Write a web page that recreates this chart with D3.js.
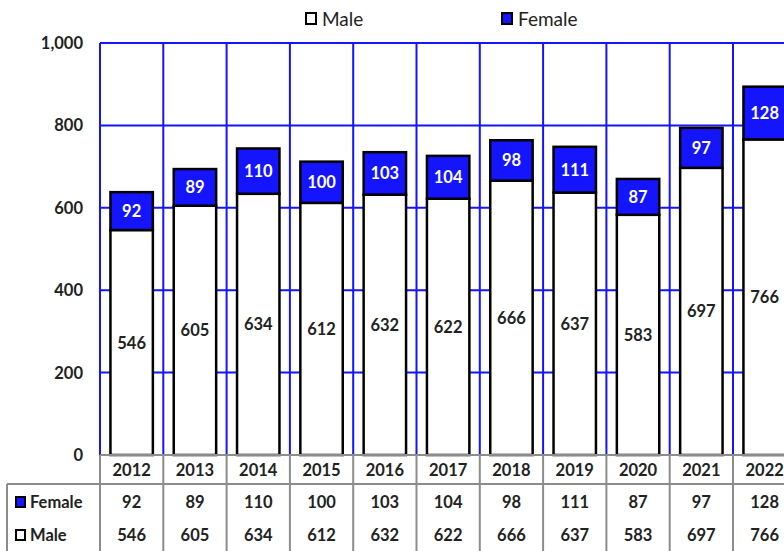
<!DOCTYPE html>
<html>
<head>
<meta charset="utf-8">
<script src="https://cdn.jsdelivr.net/npm/d3@7"></script>
<style>
  body { margin: 0; background: #fff; }
  svg { font-family: Lato, "Open Sans", sans-serif; }
</style>
</head>
<body>
<svg id="chart" width="784" height="551"></svg>
<script>
// data
const years = ["2012","2013","2014","2015","2016","2017","2018","2019","2020","2021","2022"];
const male = [546, 605, 634, 612, 632, 622, 666, 637, 583, 697, 766];
const female = [92, 89, 110, 100, 103, 104, 98, 111, 87, 97, 128];
const yTicks = [0, 200, 400, 600, 800, 1000];

const blue = "#1414ff";
const grey = "#8c8c8c";
const txt = "#222";
const fs = "16.5px";

const svg = d3.select("#chart");
const plotLeft = 100, plotTop = 43, plotBottom = 455;
const bandW = 63.3;

const x = d3.scaleBand()
  .domain(years)
  .range([plotLeft, plotLeft + bandW * years.length])
  .paddingInner(0.33)
  .paddingOuter(0.165);

const y = d3.scaleLinear().domain([0, 1000]).range([plotBottom, plotTop]);

// horizontal gridlines
svg.append("g").selectAll("line")
  .data(yTicks)
  .join("line")
    .attr("x1", plotLeft).attr("x2", 784)
    .attr("y1", d => y(d)).attr("y2", d => y(d))
    .attr("stroke", blue).attr("stroke-width", 2);

// vertical gridlines at category boundaries
const edges = years.map((d, i) => plotLeft + i * bandW).concat([plotLeft + years.length * bandW]);
svg.append("g").selectAll("line")
  .data(edges)
  .join("line")
    .attr("x1", d => d).attr("x2", d => d)
    .attr("y1", plotTop).attr("y2", plotBottom)
    .attr("stroke", blue).attr("stroke-width", 2);

// y tick labels
svg.append("g").selectAll("text")
  .data(yTicks)
  .join("text")
    .attr("x", 83)
    .attr("y", d => y(d) + 6)
    .attr("text-anchor", "end")
    .style("font-size", fs).style("font-weight", "bold")
    .attr("fill", txt)
    .text(d => d3.format(",")(d));

// stacked bars
const bars = svg.append("g");
bars.selectAll("rect.male")
  .data(years)
  .join("rect")
    .attr("class", "male")
    .attr("x", d => x(d))
    .attr("width", x.bandwidth())
    .attr("y", (d, i) => y(male[i]))
    .attr("height", (d, i) => y(0) - y(male[i]))
    .attr("fill", "#fff").attr("stroke", "#000").attr("stroke-width", 2.5);

bars.selectAll("rect.female")
  .data(years)
  .join("rect")
    .attr("class", "female")
    .attr("x", d => x(d))
    .attr("width", x.bandwidth())
    .attr("y", (d, i) => y(male[i] + female[i]))
    .attr("height", (d, i) => y(male[i]) - y(male[i] + female[i]))
    .attr("fill", blue).attr("stroke", "#000").attr("stroke-width", 2.5);

// labels inside segments
bars.selectAll("text.ml")
  .data(years)
  .join("text")
    .attr("class", "ml")
    .attr("x", d => x(d) + x.bandwidth() / 2)
    .attr("y", (d, i) => y(male[i] / 2) + 6)
    .attr("text-anchor", "middle")
    .style("font-size", fs).style("font-weight", "bold")
    .attr("fill", txt)
    .text((d, i) => male[i]);

bars.selectAll("text.fl")
  .data(years)
  .join("text")
    .attr("class", "fl")
    .attr("x", d => x(d) + x.bandwidth() / 2)
    .attr("y", (d, i) => y(male[i] + female[i] / 2) + 6)
    .attr("text-anchor", "middle")
    .style("font-size", fs).style("font-weight", "bold")
    .attr("fill", "#fff")
    .text((d, i) => female[i]);

// data table under the plot
const table = svg.append("g");
const rowTop = 455, rowMid = 484, tableLeft = 7;
table.append("line")
  .attr("x1", plotLeft).attr("x2", 784).attr("y1", rowTop).attr("y2", rowTop)
  .attr("stroke", grey).attr("stroke-width", 2);
table.append("line")
  .attr("x1", tableLeft).attr("x2", 784).attr("y1", rowMid).attr("y2", rowMid)
  .attr("stroke", grey).attr("stroke-width", 2);
table.append("line")
  .attr("x1", tableLeft).attr("x2", tableLeft).attr("y1", rowMid).attr("y2", 551)
  .attr("stroke", grey).attr("stroke-width", 2);
table.selectAll("line.v")
  .data(edges)
  .join("line")
    .attr("class", "v")
    .attr("x1", d => d).attr("x2", d => d)
    .attr("y1", rowTop).attr("y2", 551)
    .attr("stroke", grey).attr("stroke-width", 2);

const cell = (cls, yy, vals) => table.selectAll("text." + cls)
  .data(years)
  .join("text")
    .attr("class", cls)
    .attr("x", d => x(d) + x.bandwidth() / 2)
    .attr("y", yy)
    .attr("text-anchor", "middle")
    .style("font-size", fs).style("font-weight", "bold")
    .attr("fill", txt)
    .text((d, i) => vals[i]);
cell("yr", 476, years);
cell("fr", 508, female);
cell("mr", 541, male);

// row headers with keys
const rowHeads = [
  {name: "Female", fill: blue, y: 508},
  {name: "Male", fill: "#fff", y: 541}
];
const heads = table.selectAll("g.head").data(rowHeads).join("g").attr("class", "head");
heads.append("rect")
  .attr("x", 16).attr("y", d => d.y - 11)
  .attr("width", 9).attr("height", 10)
  .attr("fill", d => d.fill).attr("stroke", "#000").attr("stroke-width", 2);
heads.append("text")
  .attr("x", 30).attr("y", d => d.y)
  .style("font-size", fs).style("font-weight", "bold")
  .attr("fill", txt)
  .text(d => d.name);

// top legend
const legend = [
  {name: "Male", fill: "#fff", x: 305},
  {name: "Female", fill: blue, x: 501}
];
const lg = svg.append("g").selectAll("g").data(legend).join("g");
lg.append("rect")
  .attr("x", d => d.x + 1).attr("y", 13)
  .attr("width", 10).attr("height", 11)
  .attr("fill", d => d.fill).attr("stroke", "#000").attr("stroke-width", 2);
lg.append("text")
  .attr("x", d => d.x + 17).attr("y", 26)
  .style("font-size", "19px")
  .attr("fill", txt)
  .text(d => d.name);
</script>
</body>
</html>
